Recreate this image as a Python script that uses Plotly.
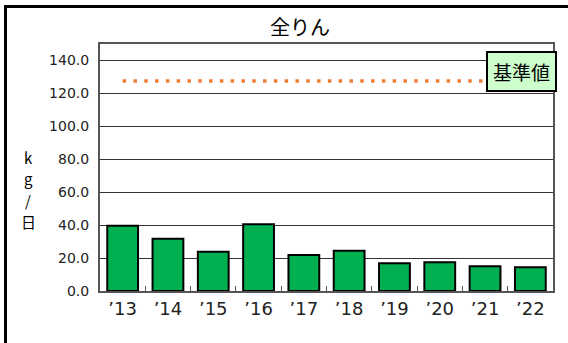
import plotly.graph_objects as go

categories = ["’13", "’14", "’15", "’16", "’17", "’18", "’19", "’20", "’21", "’22"]
values = [39.6, 31.8, 23.8, 40.5, 21.9, 24.4, 16.8, 17.5, 15.0, 14.4]
standard = [127.5] * len(categories)
y_ticks = [0, 20, 40, 60, 80, 100, 120, 140]
y_title_chars = ["k", "g", "/", "日"]

FONT = "Noto Sans CJK JP"
LATIN = "DejaVu Sans, Noto Sans CJK JP"
W, H = 568, 343
L, R, T, B = 100, 15, 44, 52
pw, ph = W - L - R, H - T - B

def px_x(px):
    return (px - L) / pw

def px_y(py):
    return (H - B - py) / ph

fig = go.Figure()
fig.add_trace(go.Bar(
    x=categories, y=values,
    marker=dict(color="#00B050", line=dict(color="black", width=2)),
    showlegend=False,
))
fig.add_trace(go.Scatter(
    x=categories, y=standard, mode="lines",
    line=dict(color="#ED7D31", width=3.5, dash="3.5px,7.3px"),
    showlegend=False,
))

annotations = [
    dict(text="基準値", xref="paper", yref="paper", x=px_x(521.5), y=px_y(71.5),
         xanchor="center", yanchor="middle", showarrow=False,
         font=dict(size=19, color="black", family=FONT),
         bgcolor="#CCFFCC", bordercolor="black", borderwidth=2, borderpad=5),
]
title_y_px = [157, 178, 200, 222]
for ch, ypx in zip(y_title_chars, title_y_px):
    annotations.append(dict(
        text=ch, xref="paper", yref="paper", x=px_x(28), y=px_y(ypx),
        xanchor="center", yanchor="middle", showarrow=False,
        font=dict(size=15, color="black", family=FONT)))

fig.update_layout(
    width=W, height=H,
    margin=dict(l=L, r=R, t=T, b=B),
    paper_bgcolor="white", plot_bgcolor="white",
    bargap=0.32,
    font=dict(family=LATIN, color="#222"),
    title=dict(text="全りん", x=(300) / W, xanchor="center", y=1 - 28 / H, yanchor="middle",
               font=dict(size=20, color="black", family=FONT)),
    xaxis=dict(
        showgrid=False, showline=True, linecolor="#555", linewidth=2, mirror=True,
        ticks="inside", tickson="boundaries", ticklen=5, tickcolor="#555",
        tickfont=dict(size=18, color="#222", family=LATIN),
    ),
    yaxis=dict(
        range=[0, 150], tickvals=y_ticks, tickformat=".1f",
        showgrid=True, gridcolor="#333", gridwidth=1,
        showline=True, linecolor="#555", linewidth=2, mirror=True,
        ticks="", tickfont=dict(size=14, color="#222", family=LATIN), ticklabelstandoff=6,
        zeroline=False,
    ),
    shapes=[dict(type="rect", xref="paper", yref="paper",
                 x0=px_x(5.5), x1=px_x(575), y0=px_y(350), y1=px_y(6.5),
                 line=dict(color="black", width=3), fillcolor="rgba(0,0,0,0)", layer="above")],
    annotations=annotations,
)

fig.write_html("out.html")
